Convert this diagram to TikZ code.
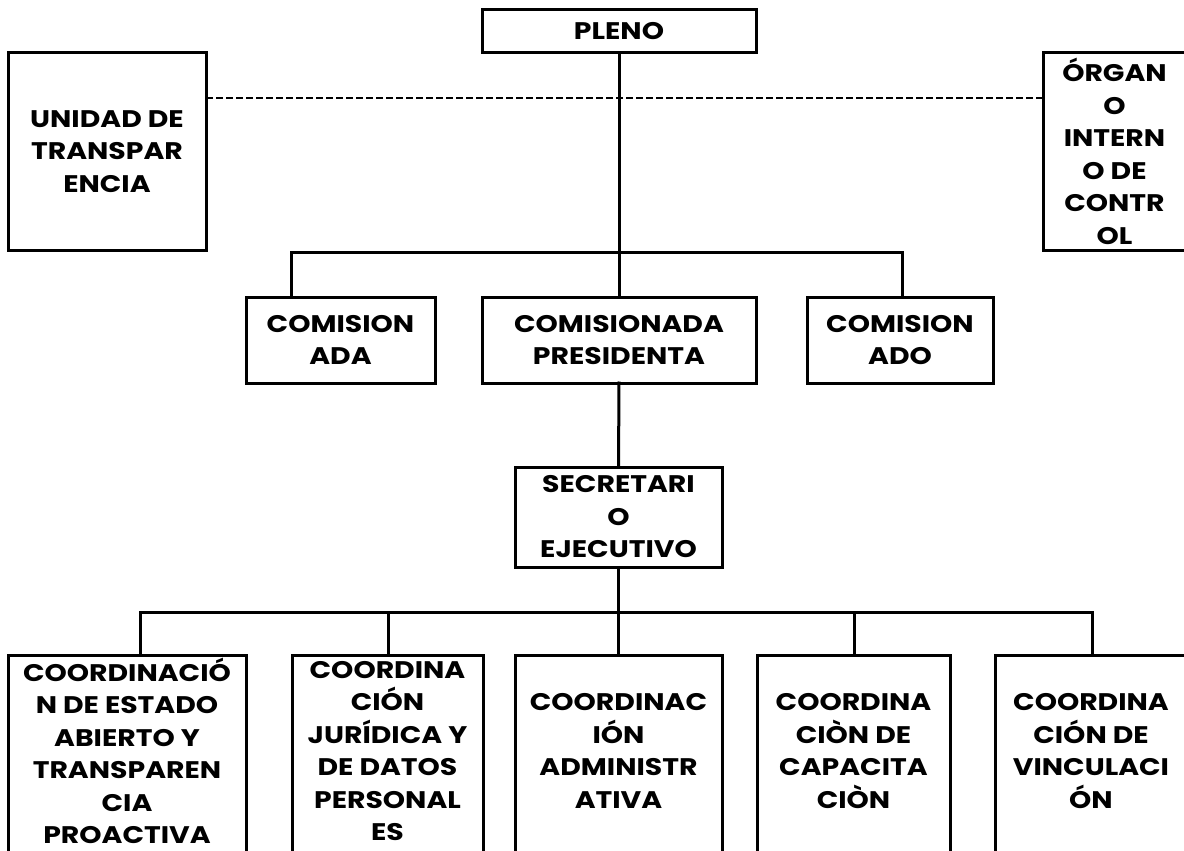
\documentclass[tikz,border=0pt]{standalone}
\usepackage{fontspec}
\setmainfont{Poppins}[FakeStretch=1.18]
\begin{document}
\begin{tikzpicture}[x=1pt,y=-1pt,
  orgbox/.style={draw=black, line width=3pt, fill=white, rectangle, inner sep=0pt, outer sep=0pt,
    align=center, font=\fontsize{24}{32.5}\selectfont\bfseries},
  lowbox/.style={orgbox, minimum height=198pt, text depth=6pt},
  conn/.style={line width=3pt, line cap=rect},
  dashconn/.style={line width=2.5pt, dash pattern=on 7pt off 3pt}
]
\clip (0,0) rectangle (1184,851);
\fill[white] (0,0) rectangle (1184,851);

% top level
\node[orgbox, minimum width=274pt, minimum height=43pt] (pleno) at (619,31.5) {PLENO};
\node[orgbox, minimum width=198pt, minimum height=197pt] (unidad) at (107,151.5) {UNIDAD DE\\TRANSPAR\\ENCIA};
\node[orgbox, minimum width=143pt, minimum height=197pt] (organo) at (1114.5,151.5) {ÓRGAN\\O\\INTERN\\O DE\\CONTR\\OL};

% second level
\node[orgbox, minimum width=189pt, minimum height=86pt] (cada) at (340.5,340) {COMISION\\ADA};
\node[orgbox, minimum width=274pt, minimum height=86pt] (pres) at (619,340) {COMISIONADA\\PRESIDENTA};
\node[orgbox, minimum width=186pt, minimum height=86pt] (cado) at (900,340) {COMISION\\ADO};

% secretario
\node[orgbox, minimum width=207pt, minimum height=100pt] (secr) at (618.5,517) {SECRETARI\\O\\EJECUTIVO};

% bottom level
\node[lowbox, minimum width=238pt] (b1) at (127,754) {COORDINACIÓ\\N DE ESTADO\\ABIERTO Y\\TRANSPAREN\\CIA\\PROACTIVA};
\node[lowbox, minimum width=191pt] (b2) at (387.5,754) {COORDINA\\CIÓN\\JURÍDICA Y\\DE DATOS\\PERSONAL\\ES};
\node[lowbox, minimum width=207pt] (b3) at (618.5,754) {COORDINAC\\IÓN\\ADMINISTR\\ATIVA};
\node[lowbox, minimum width=193pt] (b4) at (853.5,754) {COORDINA\\CIÒN DE\\CAPACITA\\CIÒN};
\node[lowbox, minimum width=192pt] (b5) at (1091,754) {COORDINA\\CIÓN DE\\VINCULACI\\ÓN};

% connectors
\coordinate (busA) at (619,252);
\coordinate (busAL) at (291,252);
\coordinate (busAR) at (902,252);
\draw[dashconn] (unidad.east |- 0,98) -- (organo.west |- 0,98);
\draw[conn] (pleno.south) -- (busA);
\draw[conn] (busAL |- cada.north) -- (busAL) -- (busAR) -- (busAR |- cado.north);
\draw[conn] (busA) -- (pres.north);
\draw[conn] (pres.south) -- (secr.north);

\coordinate (busB) at (618.5,612);
\coordinate (busB1) at (140,612);
\coordinate (busB2) at (388,612);
\coordinate (busB4) at (854,612);
\coordinate (busB5) at (1092,612);
\draw[conn] (secr.south) -- (busB);
\draw[conn] (busB1 |- b1.north) -- (busB1) -- (busB5) -- (busB5 |- b5.north);
\draw[conn] (busB2) -- (busB2 |- b2.north);
\draw[conn] (busB) -- (b3.north);
\draw[conn] (busB4) -- (busB4 |- b4.north);
\end{tikzpicture}
\end{document}
